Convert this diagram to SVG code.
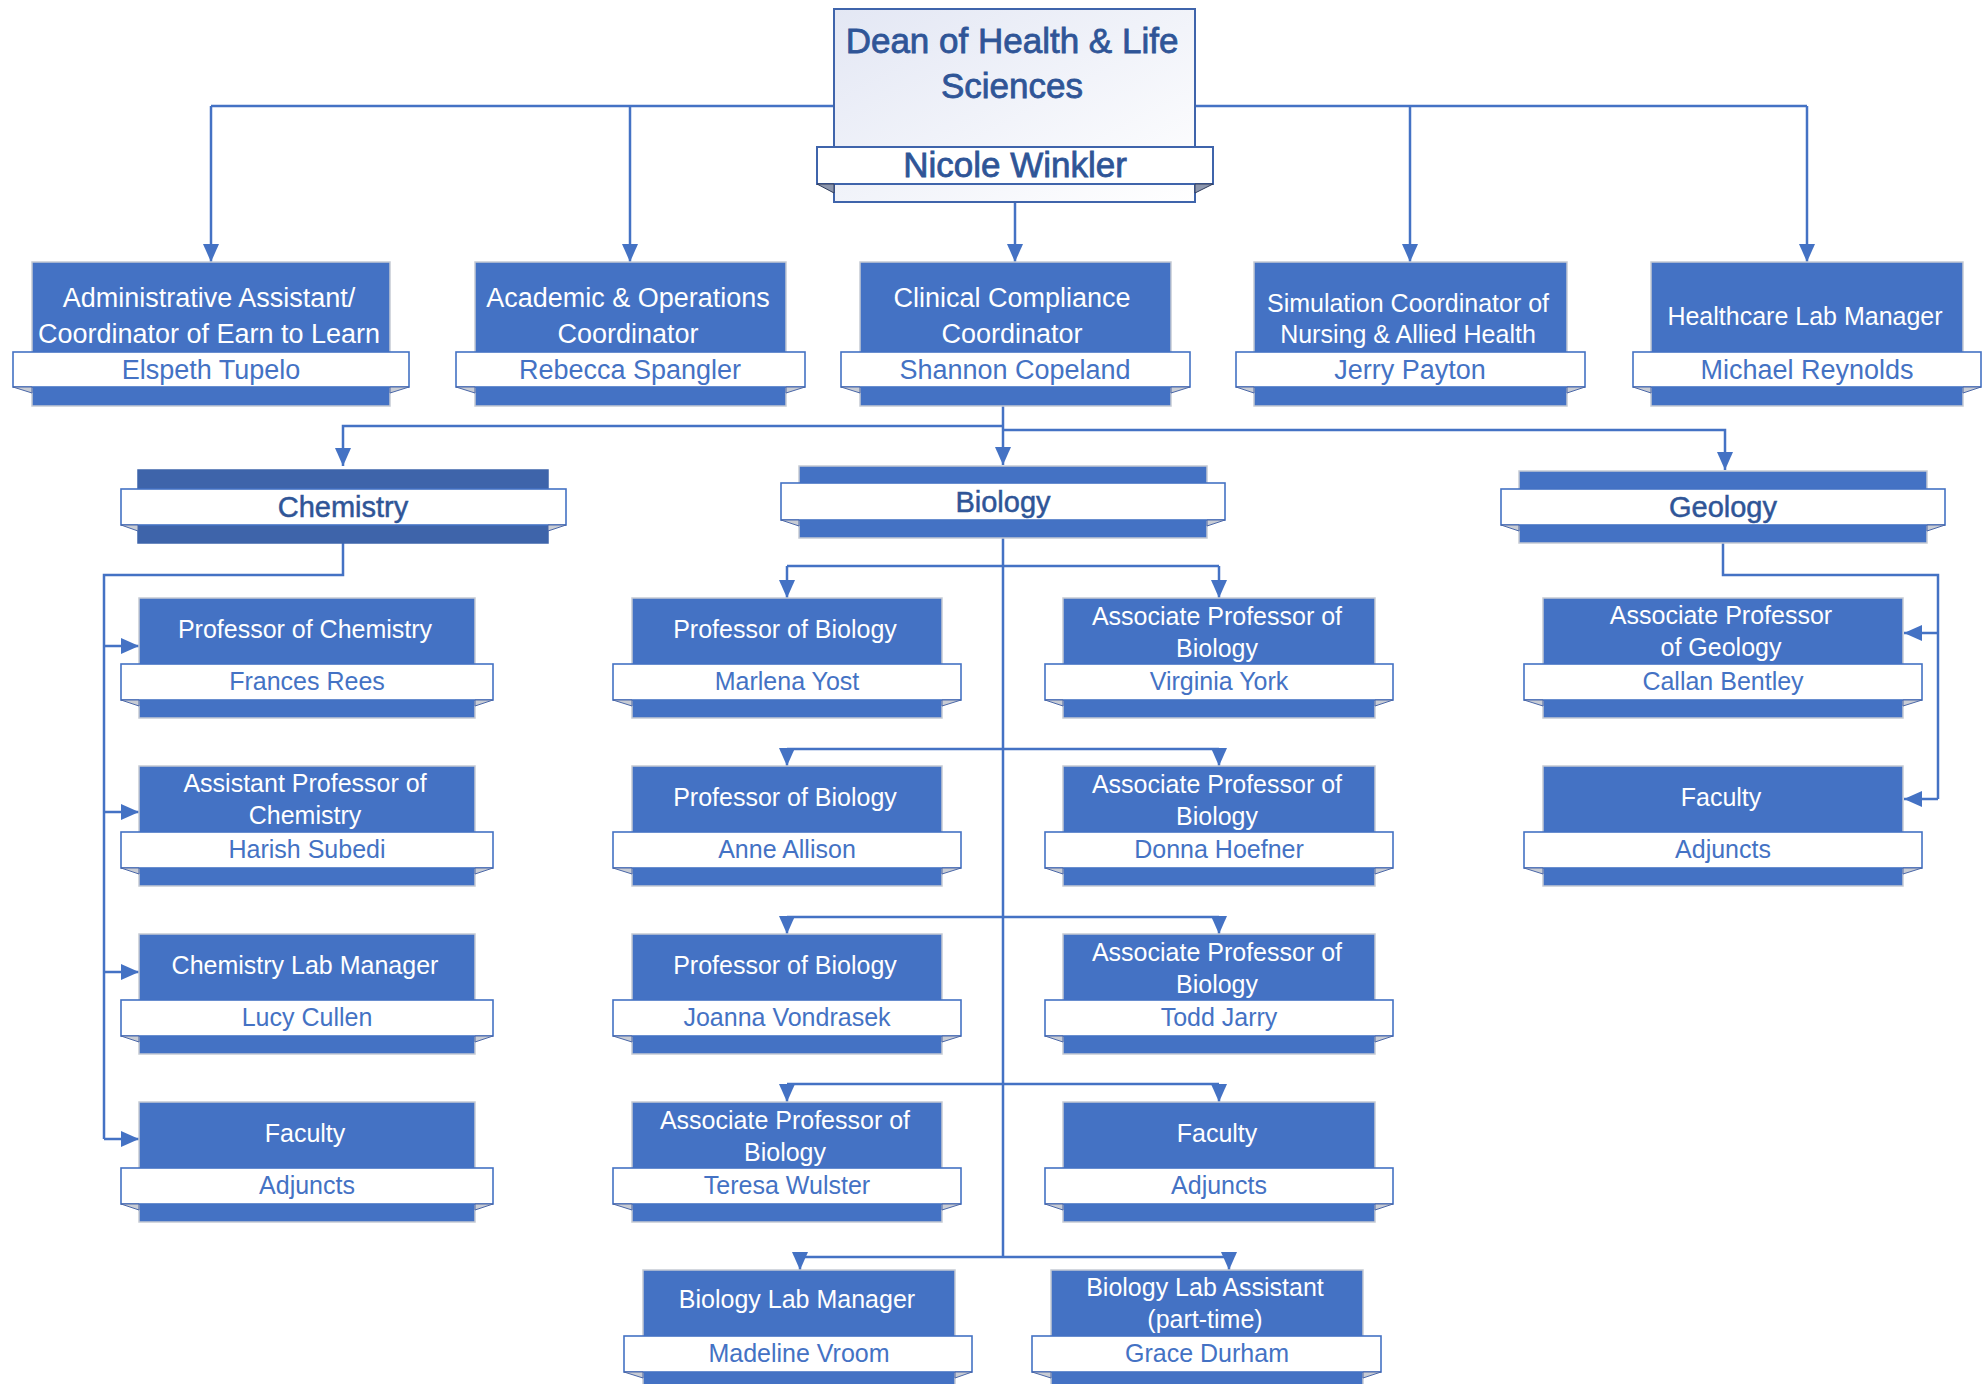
<svg xmlns="http://www.w3.org/2000/svg" width="1988" height="1384" viewBox="0 0 1988 1384">
<style>
.box{fill:#4472C4;stroke:#C5CAD3;stroke-width:1.5}
.boxdk{fill:#3E64AA;stroke:#3E64AA;stroke-width:1.5}
.band{fill:#FFFFFF;stroke:#4472C4;stroke-width:1.6}
.fold{fill:#C8CCD4;stroke:#4A67A8;stroke-width:1}
.t{font-family:"Liberation Sans",Arial,sans-serif;fill:#FFFFFF;text-anchor:middle;font-size:25px}
.tl{font-size:27px}
.n{fill:#4472C4;font-size:25px}
.nl{font-size:27px}
.dept{fill:#2F5597;font-size:29px;stroke:#2F5597;stroke-width:0.5}
.dean{fill:#2F5597;font-size:35px;stroke:#2F5597;stroke-width:0.8}
.conn{fill:none;stroke:#4472C4;stroke-width:2.5}
</style>
<defs>
<linearGradient id="deanGrad" x1="0" y1="0" x2="1" y2="1">
<stop offset="0" stop-color="#E3E7F4"/>
<stop offset="1" stop-color="#FFFFFF"/>
</linearGradient>
<marker id="ah" markerWidth="18" markerHeight="16" refX="18" refY="8" orient="auto" markerUnits="userSpaceOnUse">
<path d="M0,0 L18,8 L0,16 z" fill="#4472C4"/>
</marker>
</defs>
<rect width="1988" height="1384" fill="#FFFFFF"/>

<g id="connectors" class="conn">
<path d="M211,106 H1807"/>
<path d="M211,106 V262" marker-end="url(#ah)"/>
<path d="M630,106 V262" marker-end="url(#ah)"/>
<path d="M1410,106 V262" marker-end="url(#ah)"/>
<path d="M1807,106 V262" marker-end="url(#ah)"/>
<path d="M1015,202 V262" marker-end="url(#ah)"/>
<path d="M1003,406 V465" marker-end="url(#ah)"/>
<path d="M1003,426 H343 V466" marker-end="url(#ah)"/>
<path d="M1003,430 H1725 V470" marker-end="url(#ah)"/>
<path d="M343,543 V575 H104 V1139"/>
<path d="M104,646 H139" marker-end="url(#ah)"/>
<path d="M104,812 H139" marker-end="url(#ah)"/>
<path d="M104,972 H139" marker-end="url(#ah)"/>
<path d="M104,1139 H139" marker-end="url(#ah)"/>
<path d="M1003,538 V1257"/>
<path d="M787,566 H1219"/>
<path d="M787,566 V598" marker-end="url(#ah)"/>
<path d="M1219,566 V598" marker-end="url(#ah)"/>
<path d="M787,749 H1219"/>
<path d="M787,749 V766" marker-end="url(#ah)"/>
<path d="M1219,749 V766" marker-end="url(#ah)"/>
<path d="M787,917 H1219"/>
<path d="M787,917 V934" marker-end="url(#ah)"/>
<path d="M1219,917 V934" marker-end="url(#ah)"/>
<path d="M787,1084 H1219"/>
<path d="M787,1084 V1102" marker-end="url(#ah)"/>
<path d="M1219,1084 V1102" marker-end="url(#ah)"/>
<path d="M800,1257 H1229"/>
<path d="M800,1257 V1270" marker-end="url(#ah)"/>
<path d="M1229,1257 V1270" marker-end="url(#ah)"/>
<path d="M1723,543 V575 H1938 V799"/>
<path d="M1938,633 H1904" marker-end="url(#ah)"/>
<path d="M1938,799 H1904" marker-end="url(#ah)"/>
</g>

<g id="dean">
<rect x="834" y="9" width="361" height="193" fill="url(#deanGrad)" stroke="#3F64AB" stroke-width="2"/>
<rect x="817" y="147" width="396" height="37" fill="#FFFFFF" stroke="#3F64AB" stroke-width="2"/>
<polygon points="817,184 834,184 834,193" fill="#8D97AD" stroke="#2E3B5C" stroke-width="1"/>
<polygon points="1213,184 1195,184 1195,193" fill="#8D97AD" stroke="#2E3B5C" stroke-width="1"/>
<text class="t dean" x="1012" y="53">Dean of Health &amp; Life</text>
<text class="t dean" x="1012" y="98">Sciences</text>
<text class="t dean" x="1015" y="177">Nicole Winkler</text>
</g>

<g id="admin-assistant">
<rect class="box" x="32" y="262" width="358" height="144"/>
<rect class="band" x="13" y="352" width="396" height="35"/>
<polygon class="fold" points="13,387 32,387 32,393"/>
<polygon class="fold" points="409,387 390,387 390,393"/>
<text class="t tl" x="209" y="307">Administrative Assistant/</text>
<text class="t tl" x="209" y="343">Coordinator of Earn to Learn</text>
<text class="t n nl" x="211" y="379">Elspeth Tupelo</text>
</g>

<g id="academic-coordinator">
<rect class="box" x="475" y="262" width="311" height="144"/>
<rect class="band" x="456" y="352" width="349" height="35"/>
<polygon class="fold" points="456,387 475,387 475,393"/>
<polygon class="fold" points="805,387 786,387 786,393"/>
<text class="t tl" x="628" y="307">Academic &amp; Operations</text>
<text class="t tl" x="628" y="343">Coordinator</text>
<text class="t n nl" x="630" y="379">Rebecca Spangler</text>
</g>

<g id="clinical-coordinator">
<rect class="box" x="860" y="262" width="311" height="144"/>
<rect class="band" x="841" y="352" width="349" height="35"/>
<polygon class="fold" points="841,387 860,387 860,393"/>
<polygon class="fold" points="1190,387 1171,387 1171,393"/>
<text class="t tl" x="1012" y="307">Clinical Compliance</text>
<text class="t tl" x="1012" y="343">Coordinator</text>
<text class="t n nl" x="1015" y="379">Shannon Copeland</text>
</g>

<g id="simulation-coordinator">
<rect class="box" x="1254" y="262" width="313" height="144"/>
<rect class="band" x="1236" y="352" width="349" height="35"/>
<polygon class="fold" points="1236,387 1254,387 1254,393"/>
<polygon class="fold" points="1585,387 1567,387 1567,393"/>
<text class="t" x="1408" y="312">Simulation Coordinator of</text>
<text class="t" x="1408" y="343">Nursing &amp; Allied Health</text>
<text class="t n nl" x="1410" y="379">Jerry Payton</text>
</g>

<g id="healthcare-lab-manager">
<rect class="box" x="1651" y="262" width="312" height="144"/>
<rect class="band" x="1633" y="352" width="348" height="35"/>
<polygon class="fold" points="1633,387 1651,387 1651,393"/>
<polygon class="fold" points="1981,387 1963,387 1963,393"/>
<text class="t" x="1805" y="325">Healthcare Lab Manager</text>
<text class="t n nl" x="1807" y="379">Michael Reynolds</text>
</g>

<g id="chemistry">
<rect class="boxdk" x="138" y="470" width="410" height="73"/>
<rect class="band" x="121" y="489" width="445" height="36"/>
<polygon class="fold" points="121,525 138,525 138,531"/>
<polygon class="fold" points="566,525 548,525 548,531"/>
<text class="t dept" x="343" y="517">Chemistry</text>
</g>

<g id="biology">
<rect class="box" x="799" y="466" width="408" height="72"/>
<rect class="band" x="781" y="483" width="444" height="37"/>
<polygon class="fold" points="781,520 799,520 799,526"/>
<polygon class="fold" points="1225,520 1207,520 1207,526"/>
<text class="t dept" x="1003" y="512">Biology</text>
</g>

<g id="geology">
<rect class="box" x="1519" y="471" width="408" height="72"/>
<rect class="band" x="1501" y="489" width="444" height="36"/>
<polygon class="fold" points="1501,525 1519,525 1519,531"/>
<polygon class="fold" points="1945,525 1927,525 1927,531"/>
<text class="t dept" x="1723" y="517">Geology</text>
</g>

<g id="chem-professor">
<rect class="box" x="139" y="598" width="336" height="120"/>
<rect class="band" x="121" y="664" width="372" height="36"/>
<polygon class="fold" points="121,700 139,700 139,706"/>
<polygon class="fold" points="493,700 475,700 475,706"/>
<text class="t" x="305" y="638">Professor of Chemistry</text>
<text class="t n" x="307" y="690">Frances Rees</text>
</g>

<g id="chem-assistant-professor">
<rect class="box" x="139" y="766" width="336" height="120"/>
<rect class="band" x="121" y="832" width="372" height="36"/>
<polygon class="fold" points="121,868 139,868 139,874"/>
<polygon class="fold" points="493,868 475,868 475,874"/>
<text class="t" x="305" y="792">Assistant Professor of</text>
<text class="t" x="305" y="824">Chemistry</text>
<text class="t n" x="307" y="858">Harish Subedi</text>
</g>

<g id="chem-lab-manager">
<rect class="box" x="139" y="934" width="336" height="120"/>
<rect class="band" x="121" y="1000" width="372" height="36"/>
<polygon class="fold" points="121,1036 139,1036 139,1042"/>
<polygon class="fold" points="493,1036 475,1036 475,1042"/>
<text class="t" x="305" y="974">Chemistry Lab Manager</text>
<text class="t n" x="307" y="1026">Lucy Cullen</text>
</g>

<g id="chem-faculty">
<rect class="box" x="139" y="1102" width="336" height="120"/>
<rect class="band" x="121" y="1168" width="372" height="36"/>
<polygon class="fold" points="121,1204 139,1204 139,1210"/>
<polygon class="fold" points="493,1204 475,1204 475,1210"/>
<text class="t" x="305" y="1142">Faculty</text>
<text class="t n" x="307" y="1194">Adjuncts</text>
</g>

<g id="bio-professor-1">
<rect class="box" x="632" y="598" width="310" height="120"/>
<rect class="band" x="613" y="664" width="348" height="36"/>
<polygon class="fold" points="613,700 632,700 632,706"/>
<polygon class="fold" points="961,700 942,700 942,706"/>
<text class="t" x="785" y="638">Professor of Biology</text>
<text class="t n" x="787" y="690">Marlena Yost</text>
</g>

<g id="bio-assoc-professor-1">
<rect class="box" x="1063" y="598" width="312" height="120"/>
<rect class="band" x="1045" y="664" width="348" height="36"/>
<polygon class="fold" points="1045,700 1063,700 1063,706"/>
<polygon class="fold" points="1393,700 1375,700 1375,706"/>
<text class="t" x="1217" y="625">Associate Professor of</text>
<text class="t" x="1217" y="657">Biology</text>
<text class="t n" x="1219" y="690">Virginia York</text>
</g>

<g id="bio-professor-2">
<rect class="box" x="632" y="766" width="310" height="120"/>
<rect class="band" x="613" y="832" width="348" height="36"/>
<polygon class="fold" points="613,868 632,868 632,874"/>
<polygon class="fold" points="961,868 942,868 942,874"/>
<text class="t" x="785" y="806">Professor of Biology</text>
<text class="t n" x="787" y="858">Anne Allison</text>
</g>

<g id="bio-assoc-professor-2">
<rect class="box" x="1063" y="766" width="312" height="120"/>
<rect class="band" x="1045" y="832" width="348" height="36"/>
<polygon class="fold" points="1045,868 1063,868 1063,874"/>
<polygon class="fold" points="1393,868 1375,868 1375,874"/>
<text class="t" x="1217" y="793">Associate Professor of</text>
<text class="t" x="1217" y="825">Biology</text>
<text class="t n" x="1219" y="858">Donna Hoefner</text>
</g>

<g id="bio-professor-3">
<rect class="box" x="632" y="934" width="310" height="120"/>
<rect class="band" x="613" y="1000" width="348" height="36"/>
<polygon class="fold" points="613,1036 632,1036 632,1042"/>
<polygon class="fold" points="961,1036 942,1036 942,1042"/>
<text class="t" x="785" y="974">Professor of Biology</text>
<text class="t n" x="787" y="1026">Joanna Vondrasek</text>
</g>

<g id="bio-assoc-professor-3">
<rect class="box" x="1063" y="934" width="312" height="120"/>
<rect class="band" x="1045" y="1000" width="348" height="36"/>
<polygon class="fold" points="1045,1036 1063,1036 1063,1042"/>
<polygon class="fold" points="1393,1036 1375,1036 1375,1042"/>
<text class="t" x="1217" y="961">Associate Professor of</text>
<text class="t" x="1217" y="993">Biology</text>
<text class="t n" x="1219" y="1026">Todd Jarry</text>
</g>

<g id="bio-assoc-professor-4">
<rect class="box" x="632" y="1102" width="310" height="120"/>
<rect class="band" x="613" y="1168" width="348" height="36"/>
<polygon class="fold" points="613,1204 632,1204 632,1210"/>
<polygon class="fold" points="961,1204 942,1204 942,1210"/>
<text class="t" x="785" y="1129">Associate Professor of</text>
<text class="t" x="785" y="1161">Biology</text>
<text class="t n" x="787" y="1194">Teresa Wulster</text>
</g>

<g id="bio-faculty">
<rect class="box" x="1063" y="1102" width="312" height="120"/>
<rect class="band" x="1045" y="1168" width="348" height="36"/>
<polygon class="fold" points="1045,1204 1063,1204 1063,1210"/>
<polygon class="fold" points="1393,1204 1375,1204 1375,1210"/>
<text class="t" x="1217" y="1142">Faculty</text>
<text class="t n" x="1219" y="1194">Adjuncts</text>
</g>

<g id="bio-lab-manager">
<rect class="box" x="643" y="1270" width="312" height="120"/>
<rect class="band" x="624" y="1336" width="348" height="36"/>
<polygon class="fold" points="624,1372 643,1372 643,1378"/>
<polygon class="fold" points="972,1372 955,1372 955,1378"/>
<text class="t" x="797" y="1308">Biology Lab Manager</text>
<text class="t n" x="799" y="1362">Madeline Vroom</text>
</g>

<g id="bio-lab-assistant">
<rect class="box" x="1051" y="1270" width="312" height="120"/>
<rect class="band" x="1032" y="1336" width="349" height="36"/>
<polygon class="fold" points="1032,1372 1051,1372 1051,1378"/>
<polygon class="fold" points="1381,1372 1363,1372 1363,1378"/>
<text class="t" x="1205" y="1296">Biology Lab Assistant</text>
<text class="t" x="1205" y="1328">(part-time)</text>
<text class="t n" x="1207" y="1362">Grace Durham</text>
</g>

<g id="geo-assoc-professor">
<rect class="box" x="1543" y="598" width="360" height="120"/>
<rect class="band" x="1524" y="664" width="398" height="36"/>
<polygon class="fold" points="1524,700 1543,700 1543,706"/>
<polygon class="fold" points="1922,700 1903,700 1903,706"/>
<text class="t" x="1721" y="624">Associate Professor</text>
<text class="t" x="1721" y="656">of Geology</text>
<text class="t n" x="1723" y="690">Callan Bentley</text>
</g>

<g id="geo-faculty">
<rect class="box" x="1543" y="766" width="360" height="120"/>
<rect class="band" x="1524" y="832" width="398" height="36"/>
<polygon class="fold" points="1524,868 1543,868 1543,874"/>
<polygon class="fold" points="1922,868 1903,868 1903,874"/>
<text class="t" x="1721" y="806">Faculty</text>
<text class="t n" x="1723" y="858">Adjuncts</text>
</g>
</svg>
